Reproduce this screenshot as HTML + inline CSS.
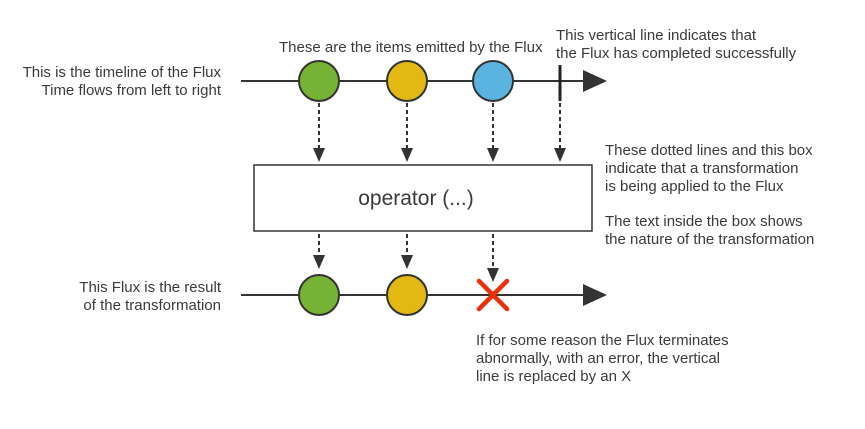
<!DOCTYPE html>
<html><head><meta charset="utf-8"><style>
html,body{margin:0;padding:0;background:#fff;}
svg{display:block;}
text{font-family:"Liberation Sans",sans-serif;font-size:15px;fill:#3a3a3a;}
</style></head><body>
<svg width="865" height="429" viewBox="0 0 865 429" xmlns="http://www.w3.org/2000/svg">
<line x1="241" y1="81" x2="585" y2="81" stroke="#333" stroke-width="2"/>
<polygon points="583,70 607,81 583,92" fill="#333"/>
<line x1="560" y1="65" x2="560" y2="101" stroke="#222" stroke-width="3"/>
<circle cx="319" cy="81" r="20" fill="#76b334" stroke="#333" stroke-width="2"/>
<circle cx="407" cy="81" r="20" fill="#e2b913" stroke="#333" stroke-width="2"/>
<circle cx="493" cy="81" r="20" fill="#5ab4df" stroke="#333" stroke-width="2"/>
<g stroke="#333" stroke-width="2" stroke-dasharray="4,3">
<line x1="319" y1="103" x2="319" y2="148"/>
<line x1="407" y1="103" x2="407" y2="148"/>
<line x1="493" y1="103" x2="493" y2="148"/>
<line x1="560" y1="103" x2="560" y2="148"/>
<line x1="319" y1="234" x2="319" y2="255"/>
<line x1="407" y1="234" x2="407" y2="255"/>
<line x1="493" y1="234" x2="493" y2="270"/>
</g>
<g fill="#333">
<polygon points="313,148 325,148 319,162"/>
<polygon points="401,148 413,148 407,162"/>
<polygon points="487,148 499,148 493,162"/>
<polygon points="554,148 566,148 560,162"/>
<polygon points="313,255 325,255 319,269"/>
<polygon points="401,255 413,255 407,269"/>
<polygon points="487,268 499,268 493,282"/>
</g>
<rect x="254" y="165" width="338" height="66" fill="#fff" stroke="#333" stroke-width="1.5"/>
<text x="416" y="205" text-anchor="middle" style="font-size:21px">operator (...)</text>
<line x1="241" y1="295" x2="585" y2="295" stroke="#333" stroke-width="2"/>
<polygon points="583,284 607,295 583,306" fill="#333"/>
<circle cx="319" cy="295" r="20" fill="#76b334" stroke="#333" stroke-width="2"/>
<circle cx="407" cy="295" r="20" fill="#e2b913" stroke="#333" stroke-width="2"/>
<g stroke="#e8300a" stroke-width="4.5" stroke-linecap="round">
<line x1="479" y1="281" x2="507" y2="309"/>
<line x1="507" y1="281" x2="479" y2="309"/>
</g>
<text x="279" y="52">These are the items emitted by the Flux</text>
<text x="556" y="40">This vertical line indicates that</text>
<text x="556" y="58">the Flux has completed successfully</text>
<text x="221" y="77" text-anchor="end">This is the timeline of the Flux</text>
<text x="221" y="95" text-anchor="end">Time flows from left to right</text>
<text x="605" y="155">These dotted lines and this box</text>
<text x="605" y="173">indicate that a transformation</text>
<text x="605" y="191">is being applied to the Flux</text>
<text x="605" y="226">The text inside the box shows</text>
<text x="605" y="244">the nature of the transformation</text>
<text x="221" y="292" text-anchor="end">This Flux is the result</text>
<text x="221" y="310" text-anchor="end">of the transformation</text>
<text x="476" y="345">If for some reason the Flux terminates</text>
<text x="476" y="363">abnormally, with an error, the vertical</text>
<text x="476" y="381">line is replaced by an X</text>
</svg>
</body></html>
